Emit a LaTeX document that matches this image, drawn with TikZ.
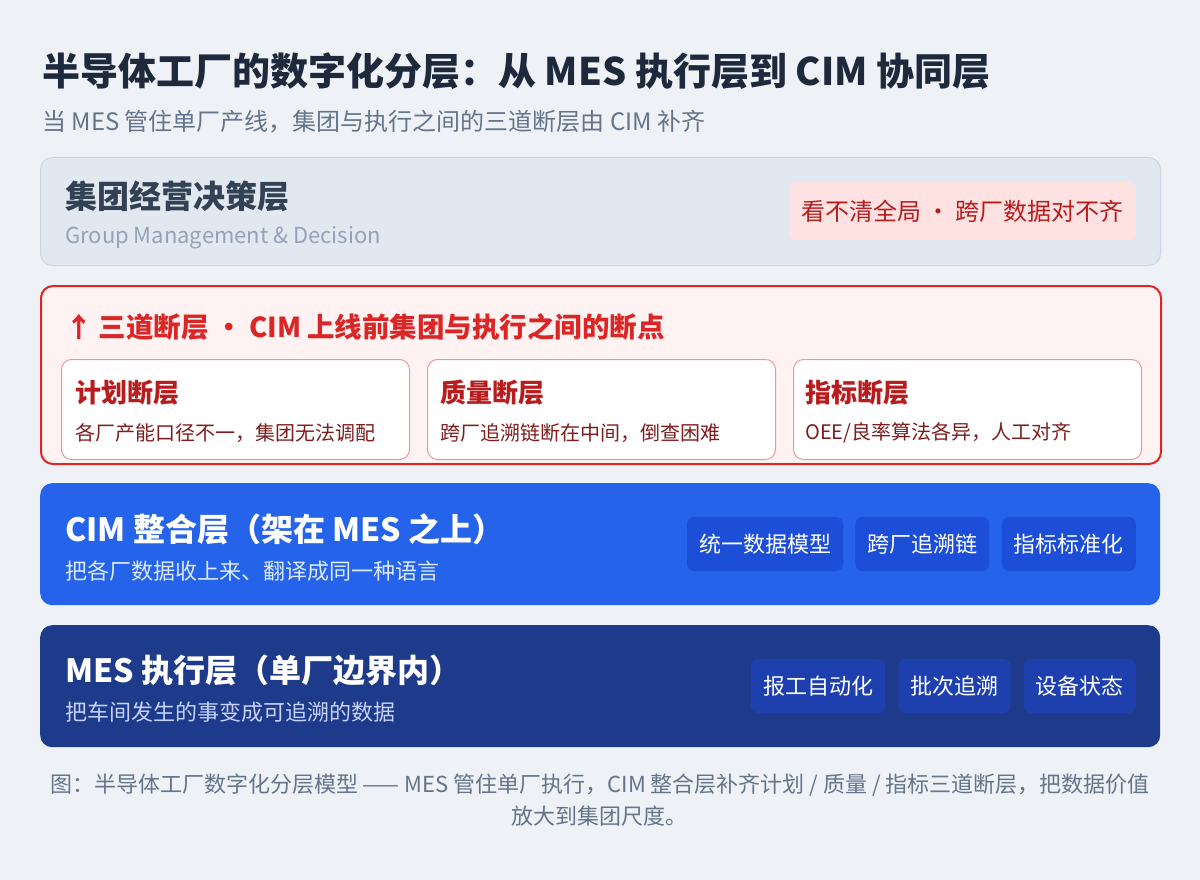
\documentclass[tikz,border=0pt]{standalone}
\usepackage{fontspec}
\setmainfont{Noto Sans CJK SC}
\usepackage{xcolor}
\usepackage{tikz}
\usetikzlibrary{positioning}
\definecolor{pagebg}{HTML}{EEF2F7}
\definecolor{titleink}{HTML}{1E293B}
\definecolor{subgray}{HTML}{64748B}
\definecolor{groupfill}{HTML}{E2E8F0}
\definecolor{groupline}{HTML}{CBD5E1}
\definecolor{groupink}{HTML}{334155}
\definecolor{groupsub}{HTML}{94A3B8}
\definecolor{badgebg}{HTML}{FEE2E2}
\definecolor{badgered}{HTML}{B91C1C}
\definecolor{gapfill}{HTML}{FEF2F2}
\definecolor{gapline}{HTML}{DC2626}
\definecolor{gapborder}{HTML}{E79A9A}
\definecolor{gapred}{HTML}{B91C1C}
\definecolor{gapbrown}{HTML}{7F1D1D}
\definecolor{cimblue}{HTML}{2563EB}
\definecolor{cimchip}{HTML}{1D4ED8}
\definecolor{cimsub}{HTML}{DBEAFE}
\definecolor{mesnavy}{HTML}{1E3A8A}
\definecolor{meschip}{HTML}{1E40AF}
\definecolor{messub}{HTML}{C7D2FE}
\newcommand{\pxsize}[1]{\fontsize{#1}{#1}\selectfont}

\begin{document}
\begin{tikzpicture}[
  x=1pt, y=-1pt,
  layerbox/.style={anchor=north west, rounded corners=12pt, minimum width=1120pt, inner sep=0},
  layertitle/.style={anchor=west, inner sep=0, font=\pxsize{32}\bfseries},
  layersub/.style={anchor=west, inner sep=0, font=\pxsize{22}},
  gapbox/.style={anchor=north west, rounded corners=10pt, minimum width=348pt, minimum height=100pt, inner sep=0, fill=white, draw=gapborder, line width=1pt},
  gaptitle/.style={anchor=west, inner sep=0, font=\pxsize{26}\bfseries, text=gapred},
  gapdesc/.style={anchor=west, inner sep=0, font=\pxsize{20}, text=gapbrown},
  chip/.style={rounded corners=7pt, minimum height=54pt, inner xsep=12pt, inner ysep=0, font=\pxsize{22}, text=white},
]

% Page
\fill[pagebg] (0,0) rectangle (1200,880);
\useasboundingbox (0,0) rectangle (1200,880);

% ==================== Heading ====================
\node[anchor=west, inner sep=0, font=\pxsize{38}\bfseries, text=titleink] (title) at (42,71) {半导体工厂的数字化分层：从 MES 执行层到 CIM 协同层};
\node[anchor=west, inner sep=0, font=\pxsize{24}, text=subgray] (subtitle) at (42,122) {当 MES 管住单厂产线，集团与执行之间的三道断层由 CIM 补齐};

% ==================== Group layer ====================
\node[layerbox, minimum height=108pt, fill=groupfill, draw=groupline, line width=1pt] (group) at (40,157) {};
\node[layertitle, text=groupink] (groupTitle) at (65,196) {集团经营决策层};
\node[layersub, text=groupsub] (groupSub) at (65,238) {Group Management \& Decision};
\node[chip, anchor=east, minimum height=58pt, font=\pxsize{24}, fill=badgebg, text=badgered] (groupBadge) at (1136,211) {看不清全局 · 跨厂数据对不齐};

% ==================== Three gaps ====================
\node[layerbox, minimum height=178pt, fill=gapfill, draw=gapline, line width=2pt] (gaps) at (40,285) {};
\node[anchor=west, inner sep=0, font=\pxsize{27.5}\bfseries, text=gapline] (gapsTitle) at (65,327) {↑ 三道断层 · CIM 上线前集团与执行之间的断点};
\node[gapbox] (planGap) at (61,359) {};
\node[gapbox, right=17pt of planGap] (qualityGap) {};
\node[gapbox, right=17pt of qualityGap] (kpiGap) {};
\node[gaptitle] (planTitle) at (75,393) {计划断层};
\node[gapdesc] (planDesc) at (75,433) {各厂产能口径不一，集团无法调配};
\node[gaptitle] (qualityTitle) at (440,393) {质量断层};
\node[gapdesc] (qualityDesc) at (440,433) {跨厂追溯链断在中间，倒查困难};
\node[gaptitle] (kpiTitle) at (805,393) {指标断层};
\node[gapdesc] (kpiDesc) at (805,433) {OEE/良率算法各异，人工对齐};

% ==================== CIM layer ====================
\node[layerbox, minimum height=122pt, fill=cimblue] (cim) at (40,483) {};
\node[layertitle, text=white] (cimTitle) at (65,529) {CIM 整合层（架在 MES 之上）};
\node[layersub, text=cimsub] (cimSub) at (65,571) {把各厂数据收上来、翻译成同一种语言};
\node[chip, fill=cimchip, anchor=east] (cimKpi) at (1136,544) {指标标准化};
\node[chip, fill=cimchip, left=12pt of cimKpi] (cimTrace) {跨厂追溯链};
\node[chip, fill=cimchip, left=12pt of cimTrace] (cimModel) {统一数据模型};

% ==================== MES layer ====================
\node[layerbox, minimum height=122pt, fill=mesnavy] (mes) at (40,625) {};
\node[layertitle, text=white] (mesTitle) at (65,670) {MES 执行层（单厂边界内）};
\node[layersub, text=messub] (mesSub) at (65,712) {把车间发生的事变成可追溯的数据};
\node[chip, fill=meschip, anchor=east] (mesState) at (1136,686) {设备状态};
\node[chip, fill=meschip, left=13pt of mesState] (mesLot) {批次追溯};
\node[chip, fill=meschip, left=13pt of mesLot] (mesReport) {报工自动化};

% ==================== Caption ====================
\node[align=center, inner sep=0, font=\fontsize{22}{32}\selectfont, text=subgray] (caption) at (600,800) {图：半导体工厂数字化分层模型 —— MES 管住单厂执行，CIM 整合层补齐计划 / 质量 / 指标三道断层，把数据价值\\放大到集团尺度。};

\end{tikzpicture}
\end{document}
